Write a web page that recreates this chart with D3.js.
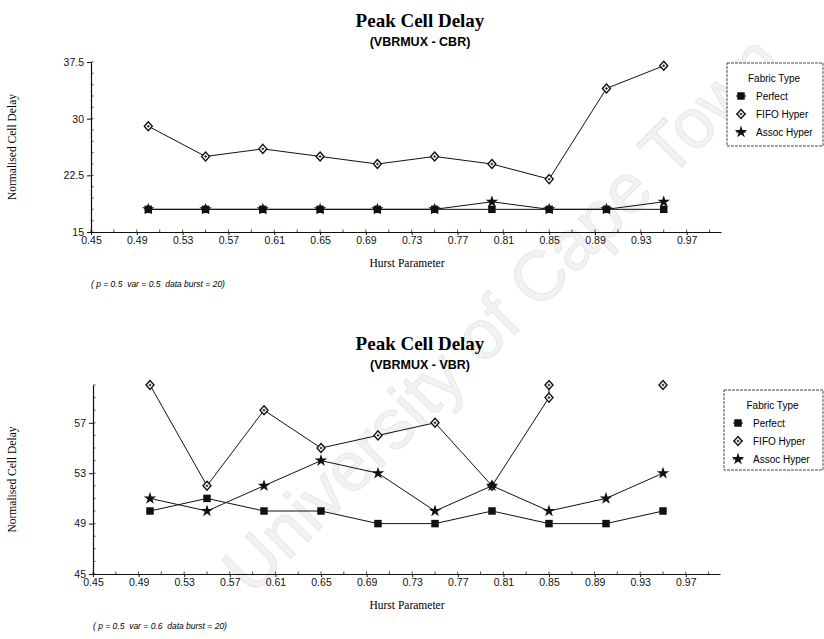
<!DOCTYPE html>
<html>
<head>
<meta charset="utf-8">
<script src="https://cdn.jsdelivr.net/npm/d3@7"></script>
<style>
  html, body { margin: 0; padding: 0; background: #fff; }
  svg { display: block; }
</style>
</head>
<body>
<svg id="chart" width="824" height="639"></svg>
<script>
// Hurst parameter values at which the delays were measured
const hurst = [0.5, 0.55, 0.6, 0.65, 0.7, 0.75, 0.8, 0.85, 0.9, 0.95];
const xTicks = [0.45, 0.49, 0.53, 0.57, 0.61, 0.65, 0.69, 0.73, 0.77, 0.81, 0.85, 0.89, 0.93, 0.97];

// VBRMUX - CBR
const cbrPerfect = [18, 18, 18, 18, 18, 18, 18, 18, 18, 18];
const cbrFifo    = [29, 25, 26, 25, 24, 25, 24, 22, 34, 37];
const cbrAssoc   = [18, 18, 18, 18, 18, 18, 19, 18, 18, 19];
const cbrYTicks  = [15, 22.5, 30, 37.5];

// VBRMUX - VBR (FIFO values above 60 are pinned to the top of the axis)
const vbrPerfect = [50, 51, 50, 50, 49, 49, 50, 49, 49, 50];
const vbrFifoX   = [0.5, 0.55, 0.6, 0.65, 0.7, 0.75, 0.8, 0.85, 0.85, 0.9, 0.95];
const vbrFifo    = [60, 52, 58, 55, 56, 57, 52, 59, 60, null, 60];
const vbrAssoc   = [51, 50, 52, 54, 53, 50, 52, 50, 51, 53];
const vbrYTicks  = [45, 49, 53, 57];

const fabrics = ["Perfect", "FIFO Hyper", "Assoc Hyper"];

const svg = d3.select("#chart");

// faint watermark across the page
svg.append("text")
  .attr("transform", "translate(505,318) rotate(-45)")
  .attr("text-anchor", "middle")
  .attr("dominant-baseline", "middle")
  .style("font-family", "Liberation Sans, Arial, sans-serif")
  .style("font-size", "70px")
  .style("fill", "#f2f2f2")
  .style("stroke", "#e4e4e4")
  .style("stroke-width", 0.8)
  .text("University of Cape Town");

function drawMarker(g, type, x, y) {
  if (type === "Perfect") {
    g.append("path")
      .attr("transform", `translate(${x},${y})`)
      .attr("d", d3.symbol(d3.symbolSquare, 56)())
      .attr("fill", "#111");
  } else if (type === "FIFO Hyper") {
    const m = g.append("g").attr("transform", `translate(${x},${y})`);
    m.append("path").attr("d", "M0,-4.5L4,0L0,4.5L-4,0Z")
      .attr("fill", "#fff").attr("stroke", "#111").attr("stroke-width", 1.4);
    m.append("path").attr("d", "M-1.3,0H1.3M0,-1.3V1.3")
      .attr("stroke", "#111").attr("stroke-width", 1);
  } else {
    g.append("path")
      .attr("transform", `translate(${x},${y})`)
      .attr("d", d3.symbol(d3.symbolStar, 48)())
      .attr("fill", "#111");
  }
}

function drawPanel(cfg) {
  const g = svg.append("g");
  const x = d3.scaleLinear().domain([0.45, 1.0]).range([cfg.left, cfg.right]);
  const y = d3.scaleLinear().domain(cfg.yDomain).range([cfg.bottom, cfg.top]);

  // titles
  g.append("text").attr("x", 420).attr("y", cfg.titleY)
    .attr("text-anchor", "middle")
    .style("font-family", "Liberation Serif, Times New Roman, serif")
    .style("font-weight", "bold").style("font-size", "19px")
    .text("Peak Cell Delay");
  g.append("text").attr("x", 420).attr("y", cfg.titleY + 19)
    .attr("text-anchor", "middle")
    .style("font-family", "Liberation Sans, Arial, sans-serif")
    .style("font-weight", "bold").style("font-size", "12.5px")
    .text(cfg.subtitle);

  // minor ticks (inside the plot)
  const minorY = d3.range(cfg.yDomain[0], cfg.yDomain[1] + 1e-9, cfg.yMinor);
  g.append("g").selectAll("line").data(minorY).join("line")
    .attr("x1", cfg.left).attr("x2", cfg.left + 2.5)
    .attr("y1", d => y(d)).attr("y2", d => y(d))
    .attr("stroke", "#222").attr("stroke-width", 0.8);
  const minorX = d3.range(0.45, 1.0001, 0.02);
  g.append("g").selectAll("line").data(minorX).join("line")
    .attr("x1", d => x(d)).attr("x2", d => x(d))
    .attr("y1", cfg.bottom).attr("y2", cfg.bottom - 2.5)
    .attr("stroke", "#222").attr("stroke-width", 0.8);

  // axes
  const xAxis = d3.axisBottom(x).tickValues(xTicks).tickFormat(d3.format(".2f"))
    .tickSizeInner(3).tickSizeOuter(0).tickPadding(2);
  const yAxis = d3.axisLeft(y).tickValues(cfg.yTicks).tickFormat(d => String(d))
    .tickSizeInner(4).tickSizeOuter(0).tickPadding(3);

  const gx = g.append("g").attr("transform", `translate(0,${cfg.bottom})`).call(xAxis);
  const gy = g.append("g").attr("transform", `translate(${cfg.left},0)`).call(yAxis);
  [gx, gy].forEach(a => {
    a.select(".domain").attr("stroke", "#111").attr("stroke-width", 1.2);
    a.selectAll(".tick line").attr("stroke", "#111");
    a.selectAll(".tick text")
      .style("font-family", "Liberation Sans, Arial, sans-serif")
      .style("font-size", "10.5px").attr("fill", "#111");
  });

  // axis titles
  g.append("text")
    .attr("transform", `translate(16,${(cfg.top + cfg.bottom) / 2}) rotate(-90)`)
    .attr("text-anchor", "middle")
    .style("font-family", "Liberation Serif, Times New Roman, serif")
    .style("font-size", "11.5px")
    .text("Normalised Cell Delay");
  g.append("text").attr("x", 407).attr("y", cfg.bottom + 35)
    .attr("text-anchor", "middle")
    .style("font-family", "Liberation Serif, Times New Roman, serif")
    .style("font-size", "11.5px")
    .text("Hurst Parameter");
  g.append("text").attr("x", cfg.left).attr("y", cfg.bottom + 55)
    .style("font-family", "Liberation Sans, Arial, sans-serif")
    .style("font-style", "italic").style("font-size", "8.5px")
    .style("white-space", "pre")
    .text(cfg.note);

  // series
  const line = d3.line().defined(d => d[1] !== null)
    .x(d => x(d[0])).y(d => y(d[1]));
  cfg.series.forEach(s => {
    const pts = s.xs.map((xv, i) => [xv, s.ys[i]]);
    g.append("path").datum(pts).attr("d", line)
      .attr("fill", "none").attr("stroke", "#111").attr("stroke-width", 1);
  });
  cfg.series.forEach(s => {
    s.xs.forEach((xv, i) => {
      if (s.ys[i] !== null) drawMarker(g, s.name, x(xv), y(s.ys[i]));
    });
  });

  // legend
  const L = cfg.legend;
  g.append("rect").attr("x", L.x).attr("y", L.y).attr("width", L.w).attr("height", L.h)
    .attr("fill", "#fff").attr("stroke", "#333").attr("stroke-width", 0.9)
    .attr("stroke-dasharray", "3,1");
  g.append("text").attr("x", L.x + L.w / 2 - 1).attr("y", L.y + 19)
    .attr("text-anchor", "middle")
    .style("font-family", "Liberation Sans, Arial, sans-serif")
    .style("font-size", "10px").text("Fabric Type");
  fabrics.forEach((f, i) => {
    const yy = L.y + 37 + i * 18;
    g.append("line").attr("x1", L.x + 9).attr("x2", L.x + 19)
      .attr("y1", yy - 4).attr("y2", yy - 4).attr("stroke", "#111");
    drawMarker(g, f, L.x + 14, yy - 4);
    g.append("text").attr("x", L.x + 29).attr("y", yy)
      .style("font-family", "Liberation Sans, Arial, sans-serif")
      .style("font-size", "10px").text(f);
  });
}

drawPanel({
  left: 91, right: 721, top: 62, bottom: 232,
  yDomain: [15, 37.5], yTicks: cbrYTicks, yMinor: 1.5,
  titleY: 27, subtitle: "(VBRMUX - CBR)",
  note: "( p = 0.5  var = 0.5  data burst = 20)",
  series: [
    { name: "Perfect", xs: hurst, ys: cbrPerfect },
    { name: "FIFO Hyper", xs: hurst, ys: cbrFifo },
    { name: "Assoc Hyper", xs: hurst, ys: cbrAssoc }
  ],
  legend: { x: 727, y: 63, w: 96, h: 83 }
});

drawPanel({
  left: 93, right: 720, top: 385, bottom: 574,
  yDomain: [45, 60], yTicks: vbrYTicks, yMinor: 1,
  titleY: 350, subtitle: "(VBRMUX - VBR)",
  note: "( p = 0.5  var = 0.6  data burst = 20)",
  series: [
    { name: "Perfect", xs: hurst, ys: vbrPerfect },
    { name: "FIFO Hyper", xs: vbrFifoX, ys: vbrFifo },
    { name: "Assoc Hyper", xs: hurst, ys: vbrAssoc }
  ],
  legend: { x: 724, y: 390, w: 99, h: 80 }
});
</script>
</body>
</html>
